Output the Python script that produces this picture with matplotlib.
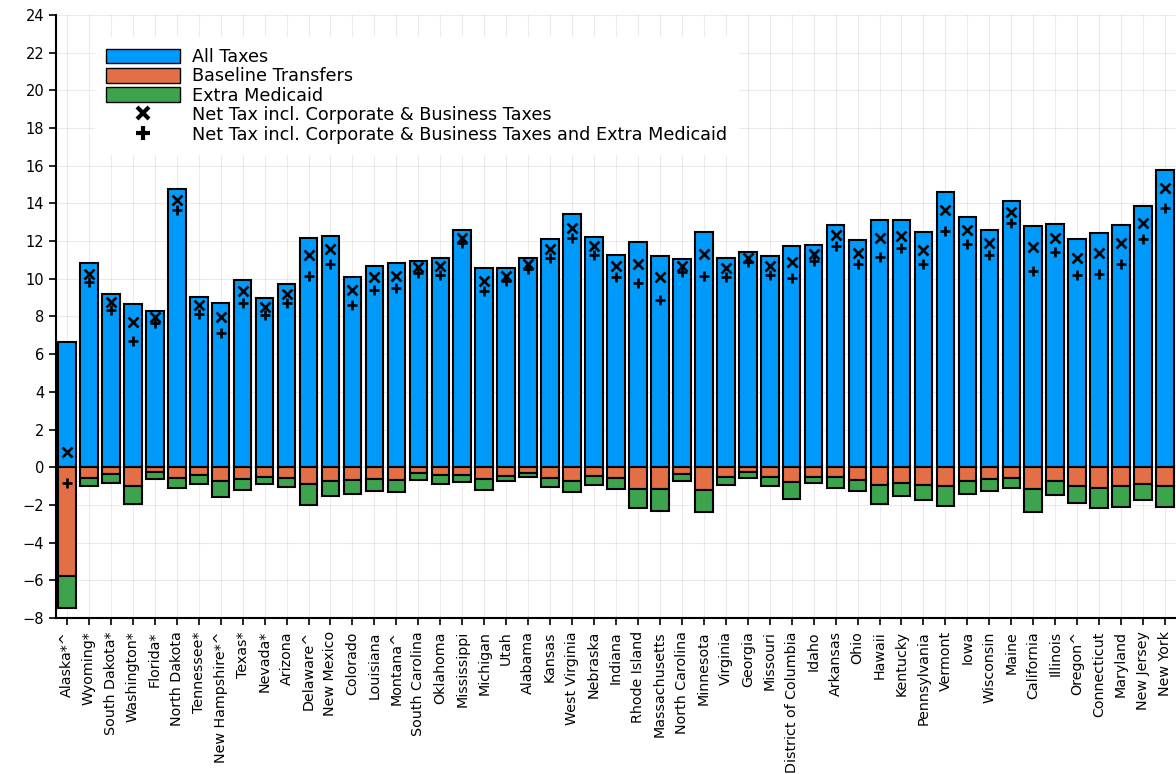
import matplotlib.pyplot as plt
import matplotlib.patches as mpatches
from matplotlib.lines import Line2D

states = ['Alaska*^', 'Wyoming*', 'South Dakota*', 'Washington*', 'Florida*', 'North Dakota',
          'Tennessee*', 'New Hampshire*^', 'Texas*', 'Nevada*', 'Arizona', 'Delaware^',
          'New Mexico', 'Colorado', 'Louisiana', 'Montana^', 'South Carolina', 'Oklahoma',
          'Mississippi', 'Michigan', 'Utah', 'Alabama', 'Kansas', 'West Virginia', 'Nebraska',
          'Indiana', 'Rhode Island', 'Massachusetts', 'North Carolina', 'Minnesota', 'Virginia',
          'Georgia', 'Missouri', 'District of Columbia', 'Idaho', 'Arkansas', 'Ohio', 'Hawaii',
          'Kentucky', 'Pennsylvania', 'Vermont', 'Iowa', 'Wisconsin', 'Maine', 'California',
          'Illinois', 'Oregon^', 'Connecticut', 'Maryland', 'New Jersey', 'New York']

all_taxes = [6.67, 10.82, 9.18, 8.67, 8.28, 14.75, 9.06, 8.72, 9.95, 8.99, 9.75, 12.16,
             12.29, 10.07, 10.66, 10.82, 10.94, 11.08, 12.61, 10.55, 10.55, 11.08, 12.13, 13.44, 12.20,
             11.26, 11.93, 11.21, 11.05, 12.46, 11.08, 11.40, 11.19, 11.72, 11.81, 12.84, 12.06, 13.14,
             13.14, 12.48, 14.61, 13.30, 12.57, 14.11, 12.82, 12.91, 12.09, 12.45, 12.84, 13.85, 15.80]

baseline = [-5.78, -0.57, -0.37, -0.98, -0.27, -0.57, -0.39, -0.74, -0.62, -0.50, -0.55, -0.90,
            -0.71, -0.67, -0.60, -0.67, -0.32, -0.43, -0.39, -0.64, -0.44, -0.30, -0.55, -0.74, -0.46,
            -0.59, -1.13, -1.13, -0.34, -1.19, -0.50, -0.27, -0.51, -0.80, -0.50, -0.50, -0.67, -0.94,
            -0.82, -0.94, -0.98, -0.71, -0.64, -0.59, -1.15, -0.73, -0.98, -1.10, -0.98, -0.90, -0.98]

# bottom edge of the green (medicaid) segment
medicaid_bottom = [-7.46, -1.00, -0.82, -1.93, -0.62, -1.08, -0.89, -1.56, -1.21, -0.90, -1.06, -2.02,
                   -1.54, -1.42, -1.24, -1.33, -0.66, -0.90, -0.76, -1.22, -0.71, -0.53, -1.05, -1.31, -0.92,
                   -1.15, -2.16, -2.32, -0.73, -2.36, -0.96, -0.55, -1.01, -1.67, -0.85, -1.08, -1.28, -1.95,
                   -1.51, -1.72, -2.06, -1.44, -1.26, -1.08, -2.36, -1.47, -1.90, -2.18, -2.09, -1.72, -2.09]

net_tax = [0.83, 10.23, 8.79, 7.70, 7.98, 14.20, 8.62, 7.96, 9.33, 8.51, 9.22, 11.24,
           11.58, 9.38, 10.09, 10.14, 10.62, 10.66, 12.18, 9.91, 10.14, 10.76, 11.56, 12.70, 11.74,
           10.67, 10.80, 10.09, 10.69, 11.29, 10.57, 11.10, 10.67, 10.89, 11.31, 12.34, 11.35, 12.18,
           12.27, 11.54, 13.65, 12.57, 11.91, 13.53, 11.68, 12.18, 11.12, 11.38, 11.88, 12.94, 14.82]

net_tax_med = [-0.82, 9.82, 8.33, 6.72, 7.66, 13.67, 8.12, 7.15, 8.72, 8.09, 8.71, 10.14,
               10.76, 8.62, 9.40, 9.49, 10.32, 10.18, 11.88, 9.33, 9.89, 10.53, 11.08, 12.16, 11.26,
               10.12, 9.79, 8.88, 10.35, 10.14, 10.12, 10.89, 10.18, 10.04, 10.96, 11.76, 10.76, 11.15,
               11.61, 10.76, 12.54, 11.84, 11.28, 12.98, 10.44, 11.44, 10.20, 10.28, 10.76, 12.11, 13.74]

blue = '#009AFA'
orange = '#E26F46'
green = '#3DA44D'

x = list(range(len(states)))
medicaid = [m - b for m, b in zip(medicaid_bottom, baseline)]

fig = plt.figure(figsize=(11.76, 7.74), dpi=100)
ax = fig.add_axes([0.0476, 0.2016, 0.9524, 0.779])

ax.bar(x, all_taxes, width=0.8, color=blue, edgecolor='black', linewidth=1.5, zorder=2)
ax.bar(x, baseline, width=0.8, color=orange, edgecolor='black', linewidth=1.5, zorder=2)
ax.bar(x, medicaid, bottom=baseline, width=0.8, color=green, edgecolor='black', linewidth=1.5, zorder=2)
ax.plot(x, net_tax, linestyle='none', marker='x', color='black', markersize=6.5, mew=1.9, zorder=3)
ax.plot(x, net_tax_med, linestyle='none', marker='+', color='black', markersize=7.5, mew=1.9, zorder=3)

ax.set_xlim(-0.5, 50.5)
ax.set_ylim(-8, 24)
ax.set_yticks(range(-8, 25, 2))
ax.set_yticklabels([str(v).replace('-', '\u2212') for v in range(-8, 25, 2)], fontsize=10.5)
ax.set_xticks(x)
ax.set_xticklabels(states, rotation=90, fontsize=10.3)
ax.tick_params(direction='out', length=5, width=1.2)
ax.tick_params(axis='x', pad=4.5)
ax.grid(True, color='#000000', alpha=0.08, linewidth=0.8, zorder=0)
ax.set_axisbelow(True)
for side in ['top', 'right']:
    ax.spines[side].set_visible(False)
for side in ['left', 'bottom']:
    ax.spines[side].set_linewidth(1.5)

handles = [
    mpatches.Patch(facecolor=blue, edgecolor='black', label='All Taxes'),
    mpatches.Patch(facecolor=orange, edgecolor='black', label='Baseline Transfers'),
    mpatches.Patch(facecolor=green, edgecolor='black', label='Extra Medicaid'),
    Line2D([], [], linestyle='none', marker='x', color='black', markersize=9, mew=3,
           label='Net Tax incl. Corporate & Business Taxes'),
    Line2D([], [], linestyle='none', marker='+', color='black', markersize=10, mew=3,
           label='Net Tax incl. Corporate & Business Taxes and Extra Medicaid'),
]
leg = ax.legend(handles=handles, loc='upper left', bbox_to_anchor=(0.035, 0.963), fontsize=12.7,
                frameon=True, edgecolor='white', framealpha=1, fancybox=False,
                handlelength=4.2, handleheight=0.9, labelspacing=0.08, handletextpad=0.68,
                borderaxespad=0.0, borderpad=0.6)

plt.savefig('out.png', dpi=100)
